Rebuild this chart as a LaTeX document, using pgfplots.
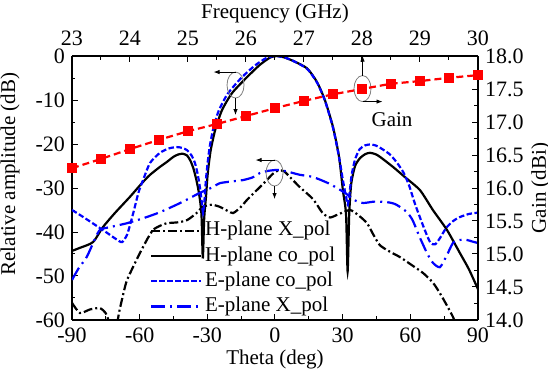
\documentclass[border=0pt]{standalone}
\usepackage{fontspec}
\setmainfont{Liberation Serif}
\newfontfamily\tnr{Liberation Serif}
\usepackage{pgfplots}
\pgfplotsset{compat=1.18}
\usetikzlibrary{arrows.meta}
\newcommand{\lfont}{\tnr\fontsize{10.5}{12.6}\selectfont}
\newcommand{\tfont}{\tnr\fontsize{11}{13}\selectfont}
\pgfplotsset{
  common/.style={
    scale only axis, width=203pt, height=132pt,
    at={(0,0)}, anchor=south west,
    font=\lfont,
    tick align=inside,
    major tick length=3pt, minor tick length=1.75pt,
    minor tick num=1,
    axis line style={-, line width=0.6pt},
    every tick/.style={black, line width=0.5pt},
    every tick label/.append style={font=\tfont},
    every axis label/.append style={font=\lfont},
    every axis x label/.append style={font=\lfont},
    every axis y label/.append style={font=\lfont},
    /pgf/number format/assume math mode=true,
  }
}
\begin{document}
\begin{tikzpicture}[font=\lfont]
\begin{axis}[common,
  axis x line*=bottom, axis y line*=left,
  xmin=-90, xmax=90, ymin=-60, ymax=0,
  xtick={-90,-60,-30,0,30,60,90}, ytick={-60,-50,-40,-30,-20,-10,0},
  xticklabel style={anchor=base, yshift=-11.5pt, font=\tfont},
  yticklabel style={font=\tfont},
  xlabel={\lfont Theta (deg)},
  xlabel style={at={(axis description cs:0.5,0)}, anchor=base, yshift=-22.5pt, font=\lfont},
  ylabel={\lfont Relative amplitude (dB)},
  ylabel style={at={(axis description cs:-0.1527,0.553)}, anchor=center, font=\lfont},
  legend style={draw=none, fill=none, at={(axis description cs:0.192,0.385)}, anchor=north west,
    inner sep=0pt, outer sep=0pt, row sep=0pt,
    font=\lfont,
    nodes={inner sep=1.5pt, text height=7.3pt, text depth=2.3pt}},
  legend cell align=left,
  legend image code/.code={\draw[#1] (0pt,0pt) -- (25pt,0pt);},
]
\addplot[black, line width=1.1pt, dash pattern=on 4.5pt off 1.5pt on 1pt off 1.5pt, smooth, tension=0.4] coordinates {
(-90,-56.1) (-86.5,-58.4) (-82,-57.6) (-77.6,-57.3) (-75,-58.5) (-73.5,-60.5) (-72,-62) (-70.5,-62) (-69,-58) (-67,-53.5) (-65.6,-50.9) (-62.5,-47.5) (-59.9,-44.8) (-56.5,-41.5) (-54,-39.5) (-51,-38.6) (-48,-38) (-43,-37.8) (-39,-37.3) (-35,-35.8) (-32,-34.3) (-28,-33.8) (-24.4,-34.3) (-21,-35.2) (-18.6,-35.7) (-15.5,-34.5) (-12.4,-32.7) (-9.5,-31.2) (-6.7,-29.8) (-3.6,-28.2) (-1,-26.8) (1.5,-26) (4,-26.2) (6.6,-27.5) (11,-29.8) (16.8,-32.5) (21.3,-35.8) (24.4,-36.7) (28,-36) (33.2,-35) (37,-36.2) (40.8,-38) (43.5,-40.5) (46.5,-43) (51,-44.5) (55.4,-45.7) (60,-47.3) (65.6,-49.3) (70,-51.5) (73.1,-53.9) (76,-56.5) (78.9,-59.3) (81,-62)
};
\addlegendentry{H-plane X\_pol}
\addplot[black, line width=1.1pt, smooth, tension=0.4] coordinates {
(-90,-44.3) (-86.5,-43.6) (-80.7,-42.3) (-76.3,-38.9) (-71,-35.7) (-64.3,-32) (-59,-28.9) (-55.4,-27) (-51,-25.2) (-48,-24.1) (-45,-22.9) (-43,-22.4) (-41,-22.2) (-39,-22.6) (-37.5,-23.8) (-36.2,-25.5) (-34.8,-28.3) (-33.6,-31.5) (-32.6,-36) (-32,-46) (-31.4,-37) (-30.6,-32) (-29.8,-26.6) (-28.5,-21.4) (-26.5,-16.8) (-23.5,-12.3) (-19,-8.4) (-12.4,-4.8) (-6.7,-2) (-2,-0.3) (1,0) (4,-0.3) (8,-1.1) (14.2,-2.8) (18.6,-5.9) (22.1,-10) (25.7,-16.1) (28.4,-22.9) (30.1,-30.5) (31.5,-36) (32.2,-49) (32.9,-36) (33.8,-29) (35.5,-25) (37.7,-23.2) (40,-22.3) (42.1,-22) (44.5,-22.3) (46.5,-22.9) (52.3,-25.2) (58,-27.7) (64.3,-30.5) (70,-35) (76.2,-39.5) (82,-44.8) (86,-48.5) (90,-53)
};
\addlegendentry{H-plane co\_pol}
\addplot[blue, line width=1.1pt, dash pattern=on 2.75pt off 1.25pt, smooth, tension=0.4] coordinates {
(-90,-35) (-85,-36.6) (-80,-38.3) (-75,-40) (-70.5,-41.6) (-67.8,-42.3) (-65.5,-40.5) (-63,-36) (-60.5,-31) (-58.5,-28.2) (-55.4,-24.3) (-51,-22) (-47,-21) (-43.5,-20.7) (-41,-20.9) (-39,-21.4) (-37,-22.6) (-35.5,-24.3) (-34.3,-26.8) (-33.3,-29.8) (-32.5,-33) (-31.9,-35.7) (-31.3,-33) (-30.6,-28) (-29.8,-24) (-28.9,-20.5) (-27.5,-16.8) (-25,-12.5) (-21,-8.6) (-15,-5) (-9,-2.2) (-4,-0.5) (0,0) (4,-0.3) (8,-1.1) (14.2,-2.9) (18.6,-6) (22.1,-10.1) (25.7,-16.3) (28.4,-23) (30.2,-28.5) (31.5,-32) (32.3,-33.8) (33.1,-31) (34,-27) (35.5,-23.5) (37.5,-21.2) (40,-20.3) (42.5,-20.1) (45,-20.4) (48,-21.3) (51,-22.4) (54,-24.2) (57,-26.5) (59.5,-29.5) (62,-33.5) (64.5,-37) (67,-40.3) (69,-42.5) (71,-42.8) (73,-41.5) (76,-39) (79,-37.5) (82,-36.6) (86,-35.9) (90,-35.6)
};
\addlegendentry{E-plane co\_pol}
\addplot[blue, line width=1.1pt, dash pattern=on 7pt off 2.5pt on 1pt off 2.5pt, smooth, tension=0.4] coordinates {
(-90,-50.9) (-87,-48.2) (-83.5,-45.7) (-80,-41.8) (-77.6,-39.5) (-73.2,-38.9) (-65.6,-38) (-58,-36.8) (-51,-35.5) (-42,-33.4) (-33.3,-31.1) (-28,-29.9) (-24.4,-28.9) (-19,-28.5) (-14.2,-28.2) (-10,-27.6) (-6.7,-26.6) (-3,-26.1) (1,-25.9) (5,-26.2) (8,-26.6) (11,-27) (16.8,-27.5) (24,-29) (31,-31.1) (35,-32.7) (39,-33.4) (44,-33.1) (49.6,-33.2) (53,-33.6) (55.4,-34.3) (58.5,-35.5) (61,-37.3) (64,-41) (67.4,-44.8) (70,-47) (73.1,-48) (76,-45.5) (78.9,-42.5) (82,-41.8) (85,-41.8) (87.7,-42.2) (90,-42.5)
};
\addlegendentry{E-plane X\_pol}
% annotations
\coordinate (E1) at (axis cs:-17.5,-6.6);
\coordinate (E2) at (axis cs:-0.2,-26.6);
\coordinate (E3) at (axis cs:38.8,-7.4);
\draw[gray, line width=0.4pt] (E1) ellipse [x radius=4.25pt, y radius=6.5pt];
\draw[gray, line width=0.4pt] (E2) ellipse [x radius=4.25pt, y radius=6.5pt];
\draw[gray, line width=0.4pt] (E3) ellipse [x radius=4.25pt, y radius=6.5pt];
\draw[line width=0.4pt, -{Latex[length=3pt,width=2.2pt]}] ([yshift=6.5pt]E1) -- ++(-11pt,0pt);
\draw[line width=0.4pt, -{Latex[length=3pt,width=2.2pt]}] ([yshift=-6.5pt]E1) -- ++(0pt,-8.5pt);
\draw[line width=0.4pt, -{Latex[length=3pt,width=2.2pt]}] ([yshift=6.5pt]E2) -- ++(-9.5pt,0pt);
\draw[line width=0.4pt, -{Latex[length=3pt,width=2.2pt]}] ([yshift=-6.5pt]E2) -- ++(0pt,-6.5pt);
\draw[line width=0.4pt, -{Latex[length=3pt,width=2.2pt]}] ([yshift=6.5pt]E3) -- ++(0pt,10pt);
\draw[line width=0.4pt, -{Latex[length=3pt,width=2.2pt]}] ([yshift=-6.5pt]E3) -- ++(10pt,0pt);
\node[font=\lfont] at (axis cs:51.9,-14.5) {Gain};
\end{axis}
\begin{axis}[common,
  axis x line*=top, axis y line*=right,
  xmin=23, xmax=30, ymin=14, ymax=18,
  xtick={23,24,25,26,27,28,29,30}, ytick={14,14.5,15,15.5,16,16.5,17,17.5,18},
  yticklabel style={font=\tfont, /pgf/number format/.cd, fixed, fixed zerofill, precision=1},
  xticklabel style={anchor=base, yshift=5.5pt, font=\tfont},
  xlabel={\lfont Frequency (GHz)},
  xlabel style={at={(axis description cs:0.5,1)}, anchor=base, yshift=19pt, font=\lfont},
  ylabel={\lfont Gain (dBi)},
  ylabel style={at={(axis description cs:1.155,0.5)}, anchor=center, font=\lfont},
]
\addplot[red, line width=1.1pt, dash pattern=on 3.5pt off 2pt, mark=square*, mark size=2pt, mark options={solid}] coordinates {
(23,16.30) (23.5,16.44) (24,16.59) (24.5,16.73) (25,16.86) (25.5,16.97) (26,17.09) (26.5,17.21) (27,17.32) (27.5,17.42) (28,17.50) (28.5,17.58) (29,17.62) (29.5,17.67) (30,17.71)
};
\end{axis}
\pgfresetboundingbox
\path[use as bounding box] (-36pt,-27.5pt) rectangle (238pt,160pt);
\end{tikzpicture}
\end{document}
